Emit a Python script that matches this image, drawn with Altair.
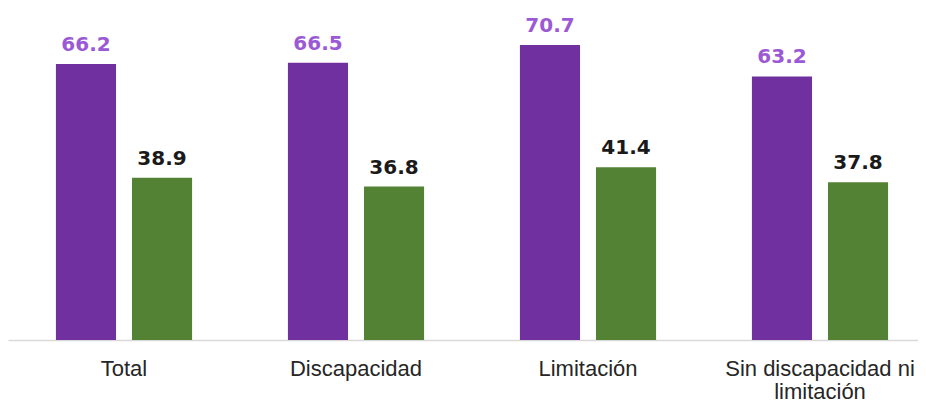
import altair as alt
import pandas as pd

categories = ["Total", "Discapacidad", "Limitación", "Sin discapacidad ni|limitación"]
series = ["Serie 1", "Serie 2"]
values_1 = [66.2, 66.5, 70.7, 63.2]
values_2 = [38.9, 36.8, 41.4, 37.8]

bar_colors = ["#7030A0", "#548235"]
label_colors = ["#9B59D6", "#1A1A1A"]

rows = []
for c, v1, v2 in zip(categories, values_1, values_2):
    rows.append({"cat": c, "serie": series[0], "valor": v1})
    rows.append({"cat": c, "serie": series[1], "valor": v2})
df = pd.DataFrame(rows)

x_enc = alt.X(
    "cat:N",
    sort=categories,
    scale=alt.Scale(range=[0, 928], paddingInner=0, paddingOuter=0),
    axis=alt.Axis(
        title=None,
        labelAngle=0,
        ticks=False,
        domainColor="#D9D9D9",
        domainWidth=1.5,
        labelFont="Liberation Sans",
        labelFontSize=22,
        labelColor="#262626",
        labelBaseline="top",
        labelPadding=18,
        labelLineHeight=23,
        labelLimit=0,
        labelExpr="split(datum.label, '|')",
    ),
)
xoff = alt.XOffset(
    "serie:N",
    sort=series,
    scale=alt.Scale(paddingInner=0.21, paddingOuter=0.63),
)
y_enc = alt.Y(
    "valor:Q",
    scale=alt.Scale(domain=[0, 79.6], nice=False),
    axis=None,
)

bars = alt.Chart(df).mark_bar().encode(
    x=x_enc,
    xOffset=xoff,
    y=y_enc,
    color=alt.Color("serie:N", scale=alt.Scale(domain=series, range=bar_colors), legend=None),
)

labels = alt.Chart(df).mark_text(
    font="DejaVu Sans",
    fontWeight="bold",
    fontSize=20,
    baseline="alphabetic",
    dy=-13,
).encode(
    x=x_enc,
    xOffset=xoff,
    y=y_enc,
    text=alt.Text("valor:Q", format=".1f"),
    color=alt.Color("serie:N", scale=alt.Scale(domain=series, range=label_colors), legend=None),
)

chart = (
    alt.layer(bars, labels)
    .resolve_scale(color="independent")
    .properties(
        width=910,
        height=332,
        autosize=alt.AutoSizeParams(type="none"),
        padding={"left": 0, "right": 0, "top": 0, "bottom": 63},
    )
    .configure_view(stroke=None)
    .configure_axis(grid=False)
)

chart.save("out.html", embed_options={"renderer": "svg", "actions": False})
